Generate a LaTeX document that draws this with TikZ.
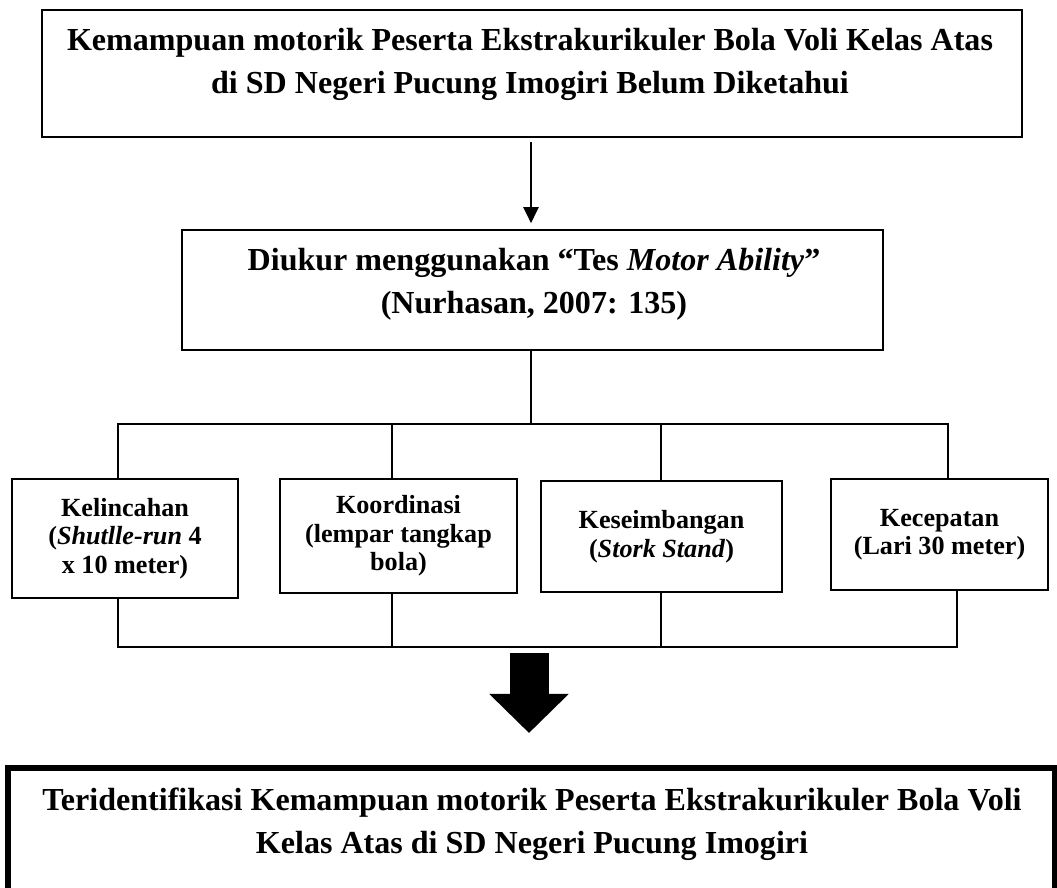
\documentclass[tikz,border=0pt]{standalone}
\usepackage{fontspec}
\setmainfont{Liberation Serif}
\usetikzlibrary{arrows.meta}

\begin{document}
\begin{tikzpicture}
[x=0.025cm, y=-0.025cm,
  bingkai/.style={draw,line width=1.2pt,inner sep=0pt},%
  teksbesar/.style={align=center,inner sep=0pt,font=\fontsize{22.8}{30.6}\selectfont\bfseries},%
  kotakkecil/.style={draw,line width=1.2pt,inner sep=0pt,align=center,font=\fontsize{18.6}{20.3}\selectfont\bfseries},%
  garis/.style={-,line width=1.3pt},%
  panah/.style={-{Triangle[length=0.4cm,width=0.38cm]},line width=1.3pt},%
  panahtebal/.style={-{Triangle[length=0.975cm,width=1.925cm]},line width=0.975cm}]
\useasboundingbox (0,0) rectangle (1057,887);
%% kotak masalah dan alat ukur
\node[bingkai,minimum width=24.5cm,minimum height=3.175cm] (masalah) at (532,73.5) {};
\node[teksbesar] (masalahteks) at (530,64)
  {Kemampuan motorik Peserta Ekstrakurikuler Bola Voli Kelas Atas\\di SD Negeri Pucung Imogiri Belum Diketahui};
\node[bingkai,minimum width=17.525cm,minimum height=3cm] (ukur) at (532.5,290) {};
\node[teksbesar] (ukurteks) at (534,284)
  {Diukur menggunakan “Tes \textit{Motor Ability}”\\(Nurhasan, 2007: 135)};
%% kotak komponen tes
\foreach \nama/\x/\y/\lebar/\tinggi/\isi in {
  kel/125/538.5/5.65/2.975/{Kelincahan\\(\textit{Shutlle-run} 4\\x 10 meter)},
  koor/398.5/536/5.925/2.85/{Koordinasi\\(lempar tangkap\\bola)},
  seim/661.5/536.5/6.025/2.775/{Keseimbangan\\(\textit{Stork Stand})},
  cepat/939.5/534.5/5.425/2.775/{Kecepatan\\(Lari 30 meter)}} {
  \node[kotakkecil,minimum width=\lebar cm,minimum height=\tinggi cm] (\nama) at (\x,\y) {\isi};
}
%% kotak hasil
\node[bingkai,line width=4.2pt,minimum width=26.175cm,minimum height=3.1cm] (hasil) at (531.5,830) {};
\node[teksbesar] (hasilteks) at (532,824)
  {Teridentifikasi Kemampuan motorik Peserta Ekstrakurikuler Bola Voli\\Kelas Atas di SD Negeri Pucung Imogiri};
%% titik cabang
\coordinate (simpul) at (531,424);
\coordinate (kumpul) at (531,647);
\coordinate (pangkal) at (529,653);
\coordinate (ujung) at (529,733);
%% garis dan panah
\draw[panah,shorten <=0.1cm,shorten >=0.15cm] (masalah.south -| simpul) -- (ukur.north -| simpul);
\draw[garis] (ukur.south -| simpul) -- (simpul);
\foreach \nama/\xa/\xb in {kel/118/118, koor/392/392, seim/661/661, cepat/948/957} {
  \draw[garis] (\nama.north -| \xa,0) |- (simpul);
  \draw[garis] (\nama.south -| \xb,0) |- (kumpul);
}
\draw[panahtebal] (pangkal) -- (ujung);
\end{tikzpicture}
\end{document}
